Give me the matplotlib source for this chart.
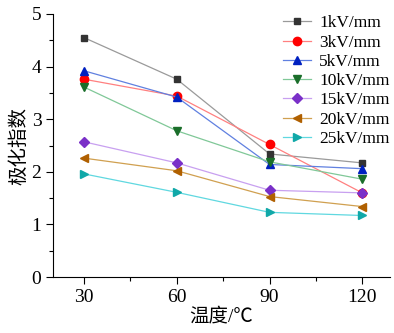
import matplotlib
matplotlib.use('Agg')
from matplotlib import pyplot as plt
from matplotlib.ticker import MultipleLocator

plt.rcParams['font.family'] = ['Liberation Serif', 'Noto Sans CJK SC']
plt.rcParams['mathtext.fontset'] = 'stix'

temps = [30, 60, 90, 120]
labels = ['1kV/mm', '3kV/mm', '5kV/mm', '10kV/mm', '15kV/mm', '20kV/mm', '25kV/mm']
values = [
    [4.55, 3.76, 2.34, 2.17],
    [3.76, 3.44, 2.52, 1.60],
    [3.92, 3.42, 2.14, 2.06],
    [3.61, 2.78, 2.19, 1.86],
    [2.57, 2.17, 1.65, 1.60],
    [2.26, 2.02, 1.53, 1.34],
    [1.96, 1.61, 1.23, 1.17],
]
markers = ['s', 'o', '^', 'v', 'D', '<', '>']
mcolors = ['#333333', '#ff0000', '#0020c0', '#1a6e2a', '#7a30c8', '#b06000', '#10a8a8']
lcolors = ['#9a9a9a', '#ff8080', '#6080e0', '#80c898', '#c8a0f0', '#d0a050', '#60d8e0']
msizes = [5, 6, 6, 6, 5, 6, 6]

fig = plt.figure(figsize=(3.94, 3.33), dpi=100)
ax = fig.add_axes([0.135, 0.168, 0.855, 0.79])

for i in range(len(labels)):
    ax.plot(temps, values[i], color=lcolors[i], lw=0.9, marker=markers[i],
            markersize=msizes[i], markerfacecolor=mcolors[i],
            markeredgecolor=mcolors[i], label=labels[i])

ax.set_xlim(20, 129)
ax.set_ylim(0, 5)
ax.set_xticks(temps)
ax.xaxis.set_minor_locator(MultipleLocator(15))
ax.yaxis.set_major_locator(MultipleLocator(1))
ax.yaxis.set_minor_locator(MultipleLocator(0.5))
ax.tick_params(which='major', direction='out', length=5, width=0.8, labelsize=14)
ax.tick_params(which='minor', direction='out', length=3, width=0.8)
ax.spines['top'].set_visible(False)
ax.spines['right'].set_visible(False)

ax.set_xlabel('温度/℃', fontsize=14, labelpad=1)
ax.set_ylabel('极化指数', fontsize=14, labelpad=2)

ax.legend(loc='upper right', bbox_to_anchor=(1.03, 1.035), frameon=False,
          fontsize=12.5, handlelength=1.6, labelspacing=0.18, handletextpad=0.5,
          borderaxespad=0.2)

fig.savefig('out.png', dpi=100)
